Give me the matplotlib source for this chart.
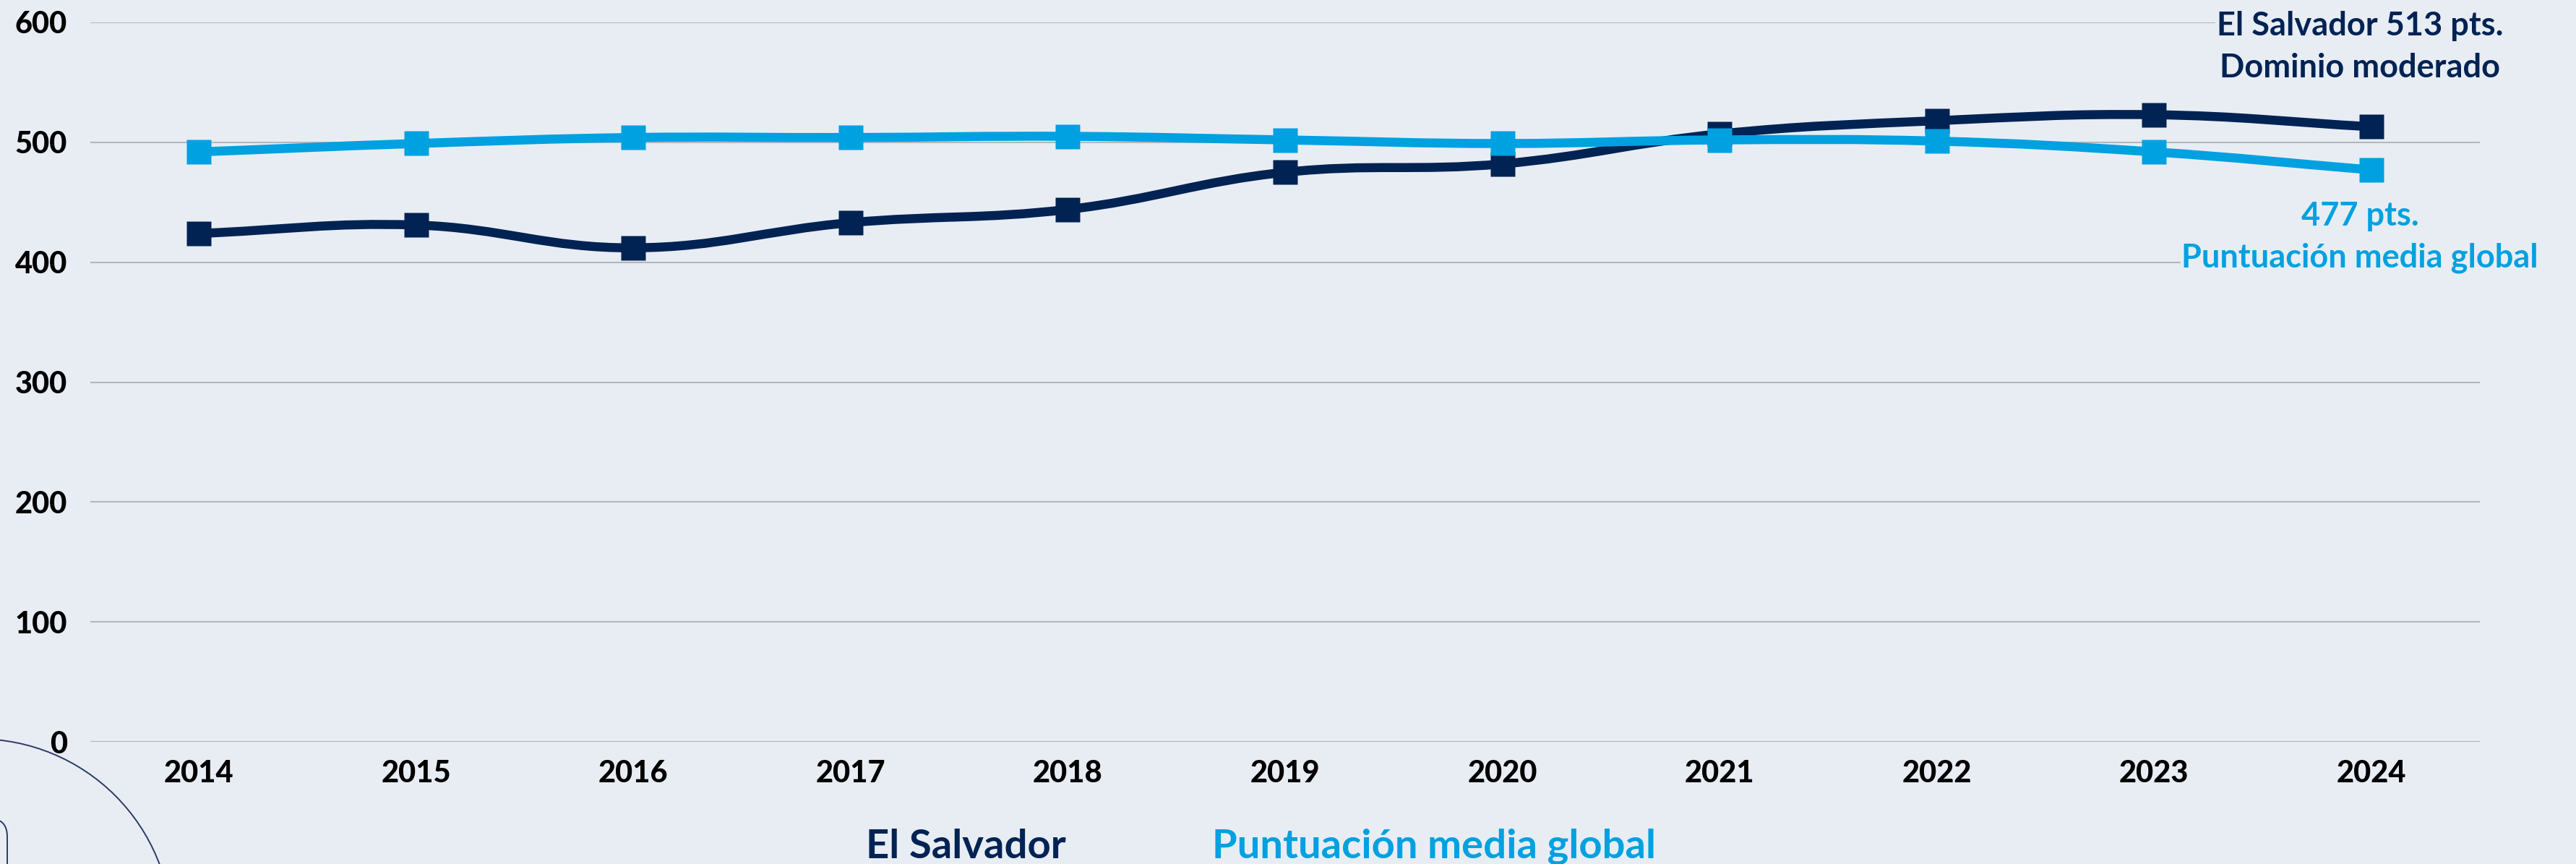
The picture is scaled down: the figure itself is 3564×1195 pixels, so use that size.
import numpy as np
import matplotlib
matplotlib.use("Agg")
import matplotlib.pyplot as plt
from matplotlib.path import Path
from matplotlib.patches import PathPatch, Circle, FancyBboxPatch

years = [2014, 2015, 2016, 2017, 2018, 2019, 2020, 2021, 2022, 2023, 2024]
el_salvador = [424, 431, 412, 433, 444, 475, 482, 507, 518, 523, 513]
media_global = [492, 499, 504, 504, 505, 502, 499, 502, 501, 492, 477]
y_ticks = [0, 100, 200, 300, 400, 500, 600]

W, H = 3564, 1195
BG = '#e8edf4'
NAVY = '#012353'
CYAN = '#00a1e0'

plt.rcParams['font.family'] = ['Lato', 'DejaVu Sans']


def smooth_path(xs, ys, sx, sy, t=0.4):
    # chart.js style bezier smoothing, worked out in pixel space
    px = np.array(xs, float) * sx
    py = np.array(ys, float) * sy
    n = len(px)
    cp_prev = np.zeros((n, 2))
    cp_next = np.zeros((n, 2))
    for i in range(n):
        a, b = max(i - 1, 0), min(i + 1, n - 1)
        d01 = np.hypot(px[i] - px[a], py[i] - py[a])
        d12 = np.hypot(px[b] - px[i], py[b] - py[i])
        tot = d01 + d12
        fa = t * d01 / tot if tot else 0
        fb = t * d12 / tot if tot else 0
        dx, dy = px[b] - px[a], py[b] - py[a]
        cp_prev[i] = (px[i] - fa * dx, py[i] - fa * dy)
        cp_next[i] = (px[i] + fb * dx, py[i] + fb * dy)
    verts = [(px[0], py[0])]
    codes = [Path.MOVETO]
    for i in range(n - 1):
        verts += [tuple(cp_next[i]), tuple(cp_prev[i + 1]), (px[i + 1], py[i + 1])]
        codes += [Path.CURVE4] * 3
    verts = np.array(verts)
    verts[:, 0] /= sx
    verts[:, 1] /= sy
    return Path(verts, codes)


fig = plt.figure(figsize=(W / 100, H / 100), dpi=100, facecolor=BG)
left, right, top, bottom = 125, 3431, 31, 1026
ax = fig.add_axes([left / W, 1 - bottom / H, (right - left) / W, (bottom - top) / H])
ax.set_facecolor(BG)
ax.set_xlim(2013.5, 2024.5)
ax.set_ylim(0, 600)

sx = (right - left) / 11.0
sy = (bottom - top) / 600.0

for vals, col, z in [(el_salvador, NAVY, 3), (media_global, CYAN, 5)]:
    ax.add_patch(PathPatch(smooth_path(years, vals, sx, sy), facecolor='none',
                           edgecolor=col, lw=9, zorder=z))
    ax.plot(years, vals, ls='none', marker='s', ms=24.5, color=col, mec='none', zorder=z + 0.5)

ax.set_yticks(y_ticks)
ax.set_xticks(years)
ax.grid(axis='y', color='#b3b7bd', lw=1.5, zorder=0)
ax.grid(axis='x', visible=False)
ax.axhline(0, color='#50555c', lw=1.5, zorder=1)
for s in ax.spines.values():
    s.set_visible(False)
ax.tick_params(axis='y', length=0, pad=23)
ax.tick_params(axis='x', length=0, pad=18)
for lab in ax.get_xticklabels() + ax.get_yticklabels():
    lab.set_fontweight('black')
    lab.set_fontsize(30)
    lab.set_color('black')


def ftext(x, y, s, col, size, ha='center'):
    fig.text(x / W, 1 - y / H, s, color=col, fontsize=size, fontweight='bold',
             ha=ha, va='baseline',
             bbox=dict(facecolor=BG, edgecolor='none', pad=1))


# end labels
ftext(3265, 49, 'El Salvador 513 pts.', NAVY, 32.5)
ftext(3265, 107, 'Dominio moderado', NAVY, 32.5)
ftext(3265, 312, '477 pts.', CYAN, 32.5)
ftext(3265, 369, 'Puntuación media global', CYAN, 32.5)

# legend as coloured text
fig.text(1198 / W, 1 - 1187 / H, 'El Salvador', color=NAVY, fontsize=40.5,
         fontweight='bold', ha='left', va='baseline')
fig.text(1677 / W, 1 - 1187 / H, 'Puntuación media global', color=CYAN, fontsize=40.5,
         fontweight='bold', ha='left', va='baseline')

# decoration in the lower left corner
fig.add_artist(Circle((-30 / 100, (H - 1290) / 100), 268 / 100, transform=fig.dpi_scale_trans,
                      facecolor='none', edgecolor='#2b3a67', lw=1.4))
fig.add_artist(FancyBboxPatch((-3, -3), 3.10, 3 + (H - 1132) / 100,
                              boxstyle='round,pad=0,rounding_size=0.25',
                              transform=fig.dpi_scale_trans,
                              facecolor='none', edgecolor='#2b3a67', lw=1.4))

fig.savefig('out.png', dpi=100, facecolor=BG)
